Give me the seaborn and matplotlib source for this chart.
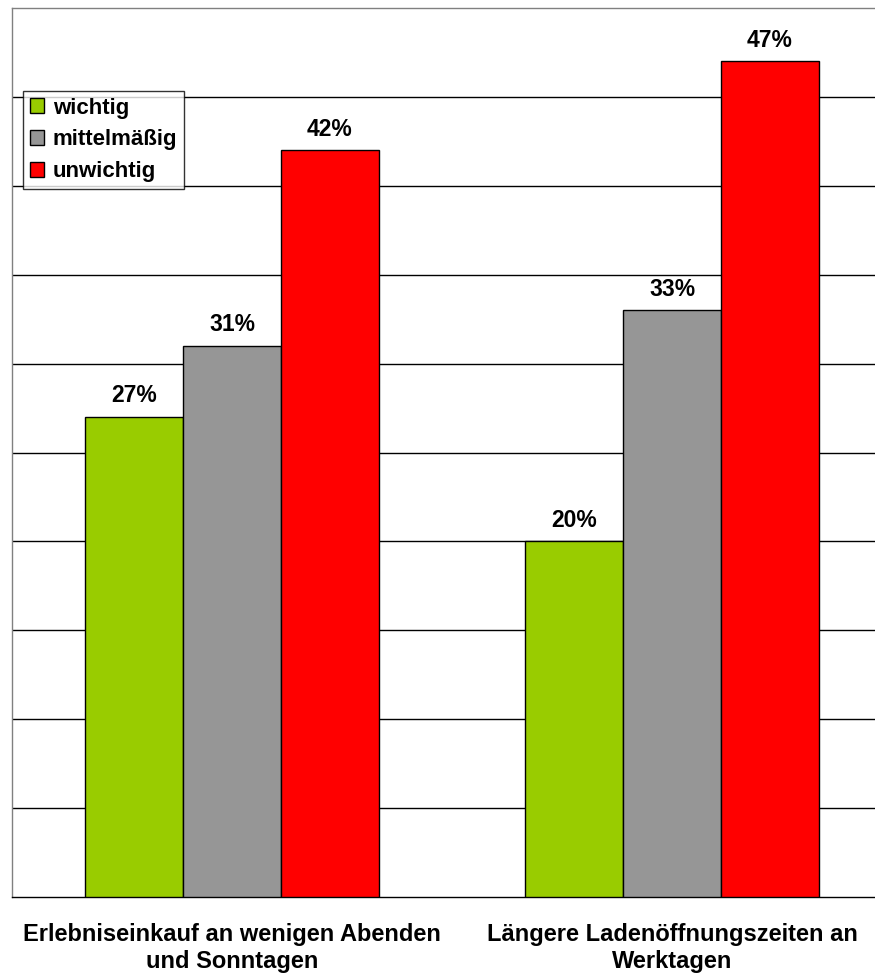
import numpy as np
import pandas as pd
import matplotlib
matplotlib.use('Agg')
import matplotlib.pyplot as plt
import seaborn as sns

# ─── Data ─────────────────────────────────────────────────────────────────────
CATEGORIES = ['Erlebniseinkauf an wenigen Abenden\nund Sonntagen',
              'Längere Ladenöffnungszeiten an\nWerktagen']
RESPONSES  = ['wichtig', 'mittelmäßig', 'unwichtig']
WICHTIG     = [27, 20]
MITTELMAESSIG = [31, 33]
UNWICHTIG   = [42, 47]
COLORS = ['#99CC00', '#969696', '#FF0000']

df = pd.DataFrame({
    'kategorie': CATEGORIES * 3,
    'antwort': [r for r in RESPONSES for _ in CATEGORIES],
    'wert': WICHTIG + MITTELMAESSIG + UNWICHTIG,
})
df['anteil'] = df['wert'] / 100

# ─── Style ────────────────────────────────────────────────────────────────────
sns.set_style('white')
plt.rcParams['font.family'] = ['Liberation Sans', 'DejaVu Sans']
plt.rcParams['font.weight'] = 'bold'
plt.rcParams['text.color'] = 'black'
plt.rcParams['xtick.color'] = 'black'
plt.rcParams['xtick.labelcolor'] = 'black'

W, H = 875, 973
fig = plt.figure(figsize=(W / 100, H / 100), dpi=100)
ax = fig.add_axes([12 / W, (H - 897) / H, 880 / W, 889 / H])

sns.barplot(data=df, x='kategorie', y='anteil', hue='antwort',
            order=CATEGORIES, hue_order=RESPONSES, palette=COLORS,
            saturation=1, width=2 / 3, gap=0, edgecolor='black', linewidth=1,
            errorbar=None, ax=ax, zorder=3)

for cont, resp in zip(ax.containers, RESPONSES):
    vals = df[df['antwort'] == resp]['wert'].tolist()
    ax.bar_label(cont, labels=[f'{v:.0f}%' for v in vals], padding=7,
                 fontsize=16.5, fontweight='bold', color='black')

ax.set_xlim(-0.5, 1.5)
ax.set_ylim(0, 0.5)
ax.set_yticks(np.arange(0.05, 0.5, 0.05))
ax.set_yticklabels([])
ax.tick_params(axis='y', length=0)
ax.yaxis.grid(True, color='black', linewidth=1)
ax.set_axisbelow(True)

ax.set_xticks([-0.5, 0.5, 1.5], minor=True)
ax.tick_params(axis='x', which='minor', length=8, width=1, color='black', direction='out')
ax.tick_params(axis='x', which='major', length=0, pad=19, labelsize=17)
for lbl in ax.get_xticklabels():
    lbl.set_fontweight('bold')
    lbl.set_color('black')
    lbl.set_linespacing(1.2)
ax.set_xlabel('')
ax.set_ylabel('')

ax.spines['bottom'].set_color('black')
ax.spines['top'].set_color('#808080')
ax.spines['left'].set_color('#808080')
ax.spines['right'].set_visible(False)
for s in ['bottom', 'top', 'left']:
    ax.spines[s].set_linewidth(1)

leg = ax.legend(loc='upper left', bbox_to_anchor=(0.0125, 0.9066),
                frameon=True, fancybox=False, edgecolor='black',
                prop={'size': 16, 'weight': 'bold'},
                handlelength=0.65, handleheight=0.65, handletextpad=0.4,
                labelspacing=0.48, borderpad=0.3, borderaxespad=0)
leg.get_frame().set_linewidth(1)
for t in leg.get_texts():
    t.set_color('black')

fig.savefig('out.png', dpi=100)
